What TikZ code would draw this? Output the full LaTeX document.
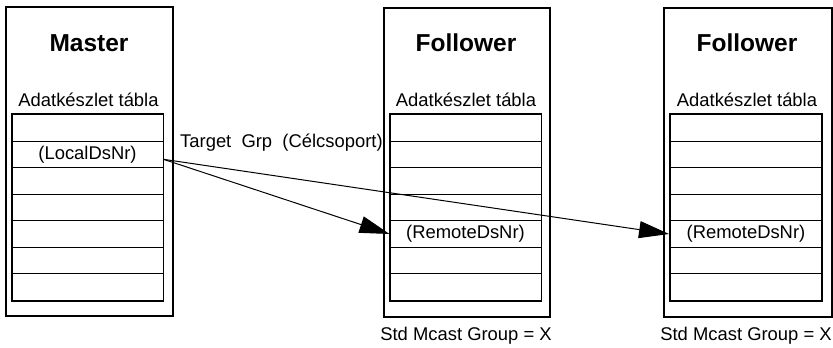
\documentclass[tikz,border=0pt]{standalone}
\usepackage{fontspec}
\setmainfont{Liberation Sans}
\usetikzlibrary{arrows.meta,calc}
\begin{document}
\begin{tikzpicture}[x=1pt,y=-1pt,
  outerbox/.style={draw,line width=1.8pt,inner sep=0pt},
  rowcell/.style={draw,line width=0.9pt,minimum width=151pt,minimum height=26.57pt,inner sep=0pt,anchor=north},
  titletext/.style={font=\fontsize{24.5}{28}\selectfont\bfseries},
  labeltext/.style={font=\fontsize{18.4}{21}\selectfont},
  conn/.style={line width=1pt,-{Triangle[length=30pt,width=17pt]}}
]
\useasboundingbox (0,0) rectangle (833,348);

% outer boxes
\node[outerbox,minimum width=167pt,minimum height=309pt,anchor=north west] (mbox) at (5,6) {};
\node[outerbox,minimum width=166pt,minimum height=309pt,anchor=north west] (f1box) at (383,7) {};
\node[outerbox,minimum width=168pt,minimum height=309pt,anchor=north west] (f2box) at (663,7) {};

% titles
\node[titletext] (mtitle) at (89,43) {Master};
\node[titletext] (f1title) at (466,43) {Follower};
\node[titletext] (f2title) at (747,43) {Follower};

\node[labeltext] (mlab) at (88.5,100) {Adatkészlet tábla};
\node[labeltext] (f1lab) at (466,100) {Adatkészlet tábla};
\node[labeltext] (f2lab) at (747,100) {Adatkészlet tábla};

% table rows
\foreach \i in {1,...,7} {
  \node[rowcell] (m\i) at (87.5,{114+(\i-1)*26.57}) {};
  \node[rowcell] (a\i) at (465.5,{114+(\i-1)*26.57}) {};
  \node[rowcell] (b\i) at (746,{114+(\i-1)*26.57}) {};
}
\node[labeltext] (mlocal) at (m2) {(LocalDsNr)};
\node[labeltext] (aremote) at (a5) {(RemoteDsNr)};
\node[labeltext] (bremote) at (b5) {(RemoteDsNr)};

% table borders
\draw[line width=1.8pt] (m1.north west) rectangle (m7.south east);
\draw[line width=1.8pt] (a1.north west) rectangle (a7.south east);
\draw[line width=1.8pt] (b1.north west) rectangle (b7.south east);

% bottom labels
\node[labeltext] (f1grp) at (466,336) {Std Mcast Group = X};
\node[labeltext] (f2grp) at (746,336) {Std Mcast Group = X};

% target group label
\node[labeltext,anchor=west,inner sep=0pt] (tg) at (180,143) {Target\ \ Grp\ \ (Célcsoport)};

% connectors
\coordinate (src) at ($(m2.east)+(0,5)$);
\draw[conn] (src) -- (a5.west);
\draw[conn] (src) -- ($(b5.west)+(-1,0)$);
\end{tikzpicture}
\end{document}
